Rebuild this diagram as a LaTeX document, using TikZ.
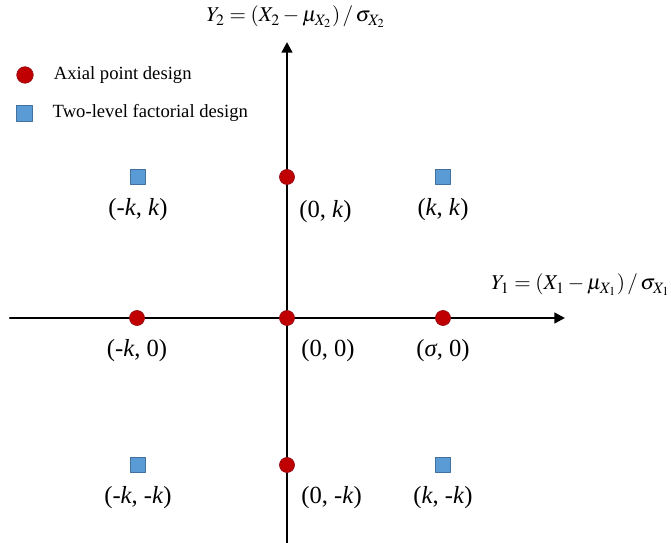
\documentclass[tikz,border=0pt]{standalone}
\usepackage{mathptmx}
\usepackage{fontspec}
\setmainfont{Liberation Serif}
\usetikzlibrary{positioning,arrows.meta}
\definecolor{axialred}{RGB}{192,0,0}
\definecolor{axialedge}{RGB}{150,10,20}
\definecolor{factblue}{RGB}{91,155,213}
\definecolor{factedge}{RGB}{65,113,156}

\begin{document}
\begin{tikzpicture}[
            line cap=round,
            line join=round,
            >={Triangle[length=6pt,width=6pt]},
            axial/.style={circle, fill=axialred, draw=axialedge,
                          line width=0.4pt, inner sep=0pt, minimum size=0.3cm},
            factorial/.style={rectangle, fill=factblue, draw=factedge,
                          line width=0.4pt, inner sep=0pt, minimum size=0.3cm},
            coordlabel/.style={inner sep=0pt, font=\fontsize{14}{16}\selectfont},
            axislabel/.style={inner sep=0pt, font=\fontsize{12}{14}\selectfont},
            legendtext/.style={inner sep=0pt, font=\fontsize{10.6}{12}\selectfont}
        ]

        % Page frame
        \useasboundingbox (-5.74,-4.5) rectangle (7.68,6.36);

        % Coordinate axes
        \coordinate (west) at (-5.54,0);
        \coordinate (east) at (5.56,0);
        \coordinate (south) at (0,-4.6);
        \coordinate (north) at (0,5.52);

        \draw[line width=1.3pt,->] (west) -- (east);
        \draw[line width=1.3pt,->] (south) -- (north);

        \node[axislabel, anchor=west] (ylabel1) at (4.08,0.66)
            {$Y_1 = (X_1 - \mu_{X_1})\,/\,\sigma_{X_1}$};
        \node[axislabel] (ylabel2) at (0.18,6.02)
            {$Y_2 = (X_2 - \mu_{X_2})\,/\,\sigma_{X_2}$};

        % Axial points
        \node[axial] (pm0) at (-3.0,0) {};
        \node[axial] (p00) at (0,0) {};
        \node[axial] (ps0) at (3.12,0) {};
        \node[axial] (p0k) at (0,2.82) {};
        \node[axial] (p0m) at (0,-2.94) {};

        % Two-level factorial points
        \node[factorial] (pmk) at (-2.98,2.82) {};
        \node[factorial] (pkk) at (3.12,2.82) {};
        \node[factorial] (pmm) at (-2.98,-2.94) {};
        \node[factorial] (pkm) at (3.12,-2.94) {};

        % Point labels
        \node[coordlabel, below=0.27cm of pmk] (lmk) {(-\textit{k}, \textit{k})};
        \node[coordlabel, below right=0.36cm and 0.13cm of p0k] (l0k) {(0, \textit{k})};
        \node[coordlabel, below=0.27cm of pkk] (lkk) {(\textit{k}, \textit{k})};

        \node[coordlabel, below=0.27cm of pm0] (lm0) {(-\textit{k}, 0)};
        \node[coordlabel, below right=0.31cm and 0.17cm of p00] (l00) {(0, 0)};
        \node[coordlabel, below=0.27cm of ps0] (ls0) {(\textit{σ}, 0)};

        \node[coordlabel, below=0.27cm of pmm] (lmm) {(-\textit{k}, -\textit{k})};
        \node[coordlabel, below right=0.31cm and 0.17cm of p0m] (l0m) {(0, -\textit{k})};
        \node[coordlabel, below=0.27cm of pkm] (lkm) {(\textit{k}, -\textit{k})};

        % Legend
        \node[axial, minimum size=0.33cm] (legaxial) at (-5.24,4.86) {};
        \node[factorial, minimum size=0.32cm] (legfact) at (-5.26,4.1) {};
        \node[legendtext, right=0.4cm of legaxial] (legaxialtext) {Axial point design};
        \node[legendtext, right=0.4cm of legfact] (legfacttext) {Two-level factorial design};

        \end{tikzpicture}
\end{document}
